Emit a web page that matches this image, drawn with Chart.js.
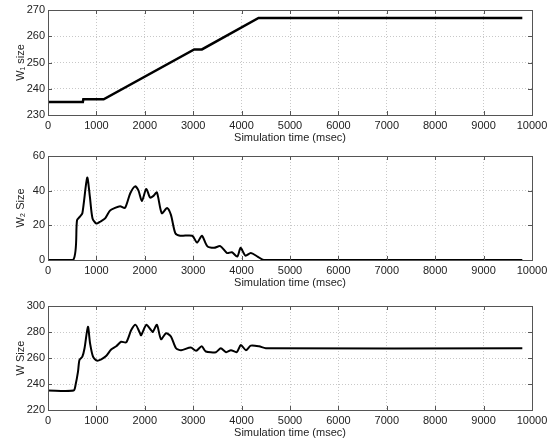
<!DOCTYPE html>
<html>
<head>
<meta charset="utf-8">
<script src="https://cdn.jsdelivr.net/npm/chart.js@4"></script>
<style>
  html, body { margin: 0; padding: 0; background: #fff; }
  #wrap { position: relative; width: 553px; height: 440px; }
  canvas { position: absolute; left: 0; }
</style>
</head>
<body>
<div id="wrap">
  <canvas id="w1Chart" width="553" height="145" style="top:0px"></canvas>
  <canvas id="w2Chart" width="553" height="145" style="top:145px"></canvas>
  <canvas id="wChart" width="553" height="150" style="top:290px"></canvas>
</div>
<script>
// simulation time (msec) and window sizes
const w1Time = [0, 720, 730, 1150, 3020, 3180, 4350, 9800];
const w1Size = [235, 235, 236, 236, 255, 255, 267, 267];

const w2Time = [0, 520, 600, 660, 710, 810, 865, 920, 1000, 1070, 1180, 1280, 1380, 1490, 1590, 1700, 1800, 1870, 1940, 2030, 2110, 2180, 2250, 2350, 2460, 2540, 2630, 2730, 2980, 3080, 3180, 3290, 3430, 3560, 3700, 3800, 3910, 3980, 4080, 4190, 4330, 4460, 9800];
const w2Size = [0, 0, 23, 25, 27, 47.5, 36.5, 24, 21, 22, 24, 28.5, 30, 31, 30, 38.5, 42.5, 40, 34, 41, 36, 37, 39, 27, 30, 26, 15.5, 14, 14, 10, 14, 8, 7, 8, 4, 4.5, 2, 7, 2.5, 4, 2, 0, 0];

const wTime = [0, 530, 570, 620, 650, 710, 755, 825, 870, 930, 1010, 1100, 1200, 1305, 1410, 1510, 1615, 1720, 1810, 1890, 1925, 2030, 2130, 2165, 2250, 2335, 2440, 2540, 2645, 2750, 2950, 3060, 3175, 3260, 3470, 3570, 3680, 3780, 3900, 3985, 4090, 4190, 4360, 4500, 9800];
const wSize = [235, 235, 239.5, 249.5, 258.5, 261, 267.5, 284, 271, 261, 258, 259, 261.5, 266.5, 269, 272.5, 272, 281.5, 285.5, 280, 277.5, 285.5, 281.5, 280, 285.5, 274.5, 279, 276.5, 267.5, 266, 268, 265.5, 269, 265, 264.5, 267.5, 264.5, 266, 264.5, 270, 266, 269.5, 269, 267.5, 267.5];

const timeRange = [0, 10000, 1000];
const w1Range = [230, 270, 10];
const w2Range = [0, 60, 20];
const wRange = [220, 300, 20];

const FONT = { family: "'Liberation Sans', Arial, Helvetica, sans-serif", size: 11 };
const TEXT = '#222';

const boxPlugin = {
  id: 'matlabBox',
  afterDraw(chart) {
    const ctx = chart.ctx;
    const a = chart.chartArea;
    ctx.save();
    ctx.strokeStyle = '#555';
    ctx.lineWidth = 1;
    ctx.strokeRect(Math.round(a.left) + 0.5, Math.round(a.top) + 0.5,
      Math.round(a.right - a.left), Math.round(a.bottom - a.top));
    ctx.beginPath();
    const xs = chart.scales.x;
    xs.ticks.forEach(t => {
      const px = Math.round(xs.getPixelForValue(t.value)) + 0.5;
      ctx.moveTo(px, a.bottom); ctx.lineTo(px, a.bottom - 4);
      ctx.moveTo(px, a.top); ctx.lineTo(px, a.top + 4);
    });
    const ys = chart.scales.y;
    ys.ticks.forEach(t => {
      const py = Math.round(ys.getPixelForValue(t.value)) + 0.5;
      ctx.moveTo(a.left, py); ctx.lineTo(a.left + 4, py);
      ctx.moveTo(a.right, py); ctx.lineTo(a.right - 4, py);
    });
    ctx.stroke();
    ctx.restore();
  }
};

function toPoints(xs, ys) {
  return xs.map((x, i) => ({ x: x, y: ys[i] }));
}

function makeChart(canvasId, times, sizes, yRange, yTitle, padTop, lineW, curve) {
  const canvas = document.getElementById(canvasId);
  return new Chart(canvas, {
    type: 'line',
    data: {
      datasets: [{
        data: toPoints(times, sizes),
        borderColor: '#000',
        borderWidth: lineW,
        pointRadius: 0,
        tension: curve,
        fill: false
      }]
    },
    options: {
      responsive: false,
      animation: false,
      events: [],
      layout: { padding: { top: padTop, right: 21, left: 0, bottom: 0 } },
      plugins: { legend: { display: false }, tooltip: { enabled: false } },
      scales: {
        x: {
          type: 'linear',
          min: timeRange[0],
          max: timeRange[1],
          afterFit: s => { s.height = 30; },
          ticks: { stepSize: timeRange[2], color: TEXT, font: FONT, padding: 4, maxRotation: 0, autoSkip: false,
                   callback: v => String(v) },
          grid: { color: '#c8c8c8', drawTicks: false, lineWidth: 1 },
          border: { display: false, dash: [1, 2] },
          title: { display: true, text: 'Simulation time (msec)', color: TEXT, font: FONT, padding: { top: 0, bottom: 0 } }
        },
        y: {
          min: yRange[0],
          max: yRange[1],
          afterFit: s => { s.width = 48; },
          ticks: { stepSize: yRange[2], color: TEXT, font: FONT, padding: 3, callback: v => String(v) },
          grid: { color: '#c8c8c8', drawTicks: false, lineWidth: 1 },
          border: { display: false, dash: [1, 2] },
          title: { display: true, text: yTitle, color: TEXT, font: FONT, padding: { top: 14, bottom: 0 } }
        }
      }
    },
    plugins: [boxPlugin]
  });
}

makeChart('w1Chart', w1Time, w1Size, w1Range, 'W\u2081 size', 10, 2.5, 0);
makeChart('w2Chart', w2Time, w2Size, w2Range, 'W\u2082 Size', 11, 2, 0.25);
makeChart('wChart', wTime, wSize, wRange, 'W Size', 16, 2, 0.25);
</script>
</body>
</html>
